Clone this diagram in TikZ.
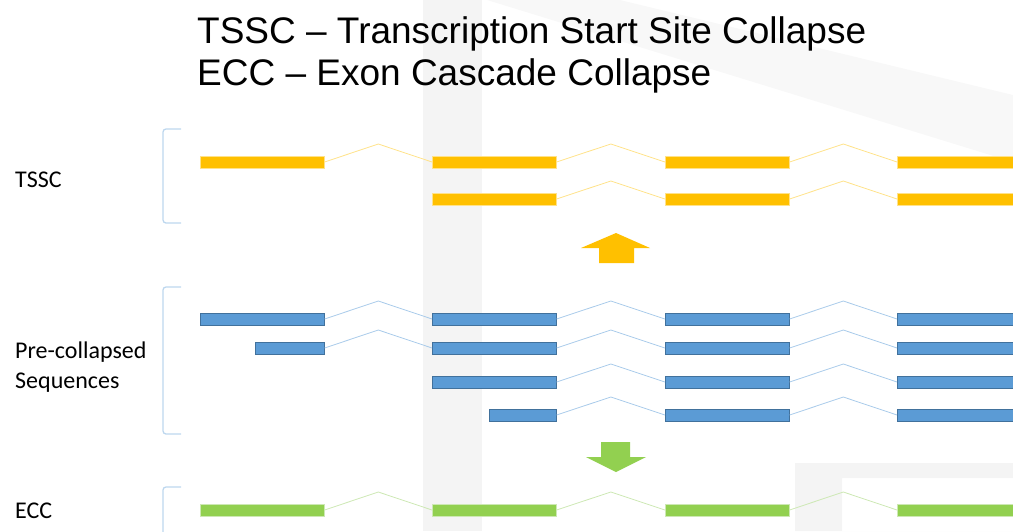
\documentclass[tikz,border=0pt]{standalone}
\usepackage{fontspec}
\setmainfont{Liberation Sans}
\newfontfamily\labelfont{Carlito}
\usepackage{tikz}
\usetikzlibrary{calc}
\definecolor{tssccol}{HTML}{FFC000}
\definecolor{tsscline}{HTML}{FFE28A}
\definecolor{seqcol}{HTML}{5B9BD5}
\definecolor{seqedge}{HTML}{41719C}
\definecolor{seqline}{HTML}{A9CBEA}
\definecolor{ecccol}{HTML}{92D050}
\definecolor{eccline}{HTML}{CDE8B4}
\definecolor{bracketcol}{HTML}{BDD7EE}
\definecolor{wmarkcol}{HTML}{F4F4F4}

% intron: peak half way between two exons
\newcommand{\intron}[3]{\draw[#1] (#2.east) -- ($(#2.east)!.5!(#3.west)+(0,-18)$) -- (#3.west);}

\begin{document}
\begin{tikzpicture}[x=1pt, y=-1pt,
  exon/.style={rectangle, anchor=west, inner sep=0pt, minimum height=12pt, minimum width=124pt, line width=0.6pt},
  exonY/.style={exon, fill=tssccol, draw=tsscline},
  exonB/.style={exon, fill=seqcol, draw=seqedge},
  exonG/.style={exon, fill=ecccol, draw=eccline},
  intronY/.style={tsscline, line width=0.8pt},
  intronB/.style={seqline, line width=0.8pt},
  intronG/.style={eccline, line width=0.8pt},
  bracket/.style={bracketcol, line width=1.3pt, rounded corners=3pt},
  label/.style={anchor=base west, font=\labelfont\fontsize{24}{30}\selectfont, align=left, inner sep=0pt}]
\useasboundingbox (0,0) rectangle (1013,531);

% faint background marks
\fill[wmarkcol] (423,0) rectangle (482,531);
\fill[wmarkcol!60!white] (487,0) -- (620,0) -- (1013,95) -- (1013,162) -- cycle;
\fill[wmarkcol, even odd rule] (795,463) rectangle (1013,531) (842,478) rectangle (1013,531);

% title (base anchor sits on the last line)
\node[anchor=base west, inner sep=0pt, align=left, font=\fontsize{37}{42}\selectfont] (title) at (197,85)
  {TSSC -- Transcription Start Site Collapse\\ECC -- Exon Cascade Collapse};

% row labels
\node[label] (tssclabel) at (15,187) {TSSC};
\node[label] (seqlabel) at (15,388) {Pre-collapsed\\Sequences};
\node[label] (ecclabel) at (15,518) {ECC};

% brackets
\draw[bracket] (181,129) -- (163,129) -- (163,223) -- (181,223);
\draw[bracket] (181,287) -- (163,287) -- (163,434) -- (181,434);
\draw[bracket] (181,487) -- (163,487) -- (163,545);

% TSSC
\node[exonY] (y1c1) at (200,162) {};
\node[exonY] (y1c2) at (432,162) {};
\node[exonY] (y1c3) at (665,162) {};
\node[exonY] (y1c4) at (897,162) {};
\node[exonY] (y2c2) at (432,199) {};
\node[exonY] (y2c3) at (665,199) {};
\node[exonY] (y2c4) at (897,199) {};
\intron{intronY}{y1c1}{y1c2} \intron{intronY}{y1c2}{y1c3} \intron{intronY}{y1c3}{y1c4}
\intron{intronY}{y2c2}{y2c3} \intron{intronY}{y2c3}{y2c4}

% pre-collapsed sequences
\node[exonB] (b1c1) at (200,319) {};
\node[exonB] (b1c2) at (432,319) {};
\node[exonB] (b1c3) at (665,319) {};
\node[exonB] (b1c4) at (897,319) {};
\node[exonB, minimum width=69pt] (b2c1) at (255,348) {};
\node[exonB] (b2c2) at (432,348) {};
\node[exonB] (b2c3) at (665,348) {};
\node[exonB] (b2c4) at (897,348) {};
\node[exonB] (b3c2) at (432,382) {};
\node[exonB] (b3c3) at (665,382) {};
\node[exonB] (b3c4) at (897,382) {};
\node[exonB, minimum width=67pt] (b4c2) at (489,415) {};
\node[exonB] (b4c3) at (665,415) {};
\node[exonB] (b4c4) at (897,415) {};
\intron{intronB}{b1c1}{b1c2} \intron{intronB}{b1c2}{b1c3} \intron{intronB}{b1c3}{b1c4}
\intron{intronB}{b2c1}{b2c2} \intron{intronB}{b2c2}{b2c3} \intron{intronB}{b2c3}{b2c4}
\intron{intronB}{b3c2}{b3c3} \intron{intronB}{b3c3}{b3c4}
\intron{intronB}{b4c2}{b4c3} \intron{intronB}{b4c3}{b4c4}

% ECC
\node[exonG] (g1c1) at (200,510) {};
\node[exonG] (g1c2) at (432,510) {};
\node[exonG] (g1c3) at (665,510) {};
\node[exonG] (g1c4) at (897,510) {};
\intron{intronG}{g1c1}{g1c2} \intron{intronG}{g1c2}{g1c3} \intron{intronG}{g1c3}{g1c4}

% collapse arrows
\fill[tssccol] (616,233) -- (650,248) -- (634,248) -- (634,263) -- (599,263) -- (599,248) -- (581,248) -- cycle;
\fill[ecccol] (616,472) -- (646,457) -- (630,457) -- (630,442) -- (601,442) -- (601,457) -- (586,457) -- cycle;
\end{tikzpicture}
\end{document}
